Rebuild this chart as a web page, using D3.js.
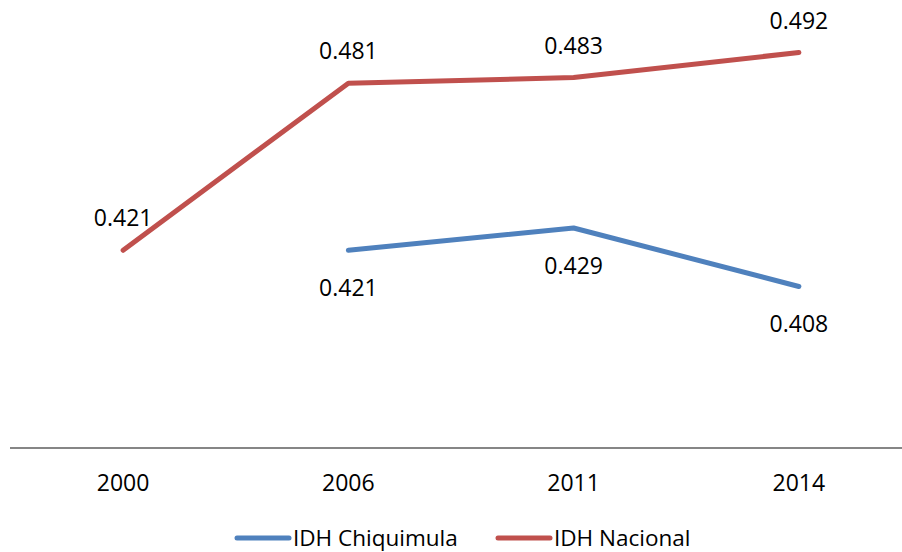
<!DOCTYPE html>
<html>
<head>
<meta charset="utf-8">
<script src="https://cdn.jsdelivr.net/npm/d3@7"></script>
<style>
  body { margin: 0; background: #fff; }
  svg { display: block; }
</style>
</head>
<body>
<svg id="chart" width="902" height="552"></svg>
<script>
const years = ["2000", "2006", "2011", "2014"];
const chiquimula = [null, 0.421, 0.429, 0.408];
const nacional = [0.421, 0.481, 0.483, 0.492];
const seriesNames = ["IDH Chiquimula", "IDH Nacional"];
const seriesColors = ["#4F81BD", "#C0504D"];
const yDomain = [0.35, 0.5];

const svg = d3.select("#chart");
const axisY = 448;
const FONT = "'Open Sans', 'Noto Sans', sans-serif";

const x = d3.scalePoint().domain(years).range([10.5, 911.5]).padding(0.5);
const y = d3.scaleLinear().domain(yDomain).range([axisY, axisY - 150 * 2.785]);

// axis line
svg.append("line")
  .attr("x1", 10).attr("x2", 902)
  .attr("y1", axisY).attr("y2", axisY)
  .attr("stroke", "#868686").attr("stroke-width", 2);

// tick labels
svg.selectAll(".tick-label").data(years).enter().append("text")
  .attr("x", d => x(d))
  .attr("y", 482)
  .attr("text-anchor", "middle")
  .attr("dominant-baseline", "central")
  .attr("font-family", FONT)
  .attr("font-size", 23)
  .attr("fill", "#000")
  .text(d => d);

const series = [
  { name: seriesNames[0], values: chiquimula, color: seriesColors[0], labelPos: "below" },
  { name: seriesNames[1], values: nacional, color: seriesColors[1], labelPos: "above" }
];

const line = d3.line()
  .defined(d => d.v !== null)
  .x(d => x(d.year))
  .y(d => y(d.v));

series.forEach(s => {
  const pts = years.map((yr, i) => ({ year: yr, v: s.values[i] }));
  svg.append("path")
    .datum(pts)
    .attr("d", line)
    .attr("fill", "none")
    .attr("stroke", s.color)
    .attr("stroke-width", 5)
    .attr("stroke-linecap", "round")
    .attr("stroke-linejoin", "round");

  svg.selectAll(null).data(pts.filter(p => p.v !== null)).enter().append("text")
    .attr("x", p => x(p.year))
    .attr("y", p => y(p.v) + (s.labelPos === "above" ? -33 : 37))
    .attr("text-anchor", "middle")
    .attr("dominant-baseline", "central")
    .attr("font-family", FONT)
    .attr("font-size", 23)
    .attr("fill", "#000")
    .text(p => p.v.toFixed(3));
});

// legend
const legendY = 537;
const legendItems = [
  { name: seriesNames[0], color: seriesColors[0], x1: 237, x2: 289, tx: 293 },
  { name: seriesNames[1], color: seriesColors[1], x1: 498, x2: 550, tx: 554 }
];
legendItems.forEach(it => {
  svg.append("line")
    .attr("x1", it.x1).attr("x2", it.x2)
    .attr("y1", legendY + 1).attr("y2", legendY + 1)
    .attr("stroke", it.color).attr("stroke-width", 5)
    .attr("stroke-linecap", "round");
  svg.append("text")
    .attr("x", it.tx).attr("y", legendY)
    .attr("dominant-baseline", "central")
    .attr("font-family", FONT)
    .attr("font-size", 22.5)
    .attr("fill", "#000")
    .text(it.name);
});
</script>
</body>
</html>
